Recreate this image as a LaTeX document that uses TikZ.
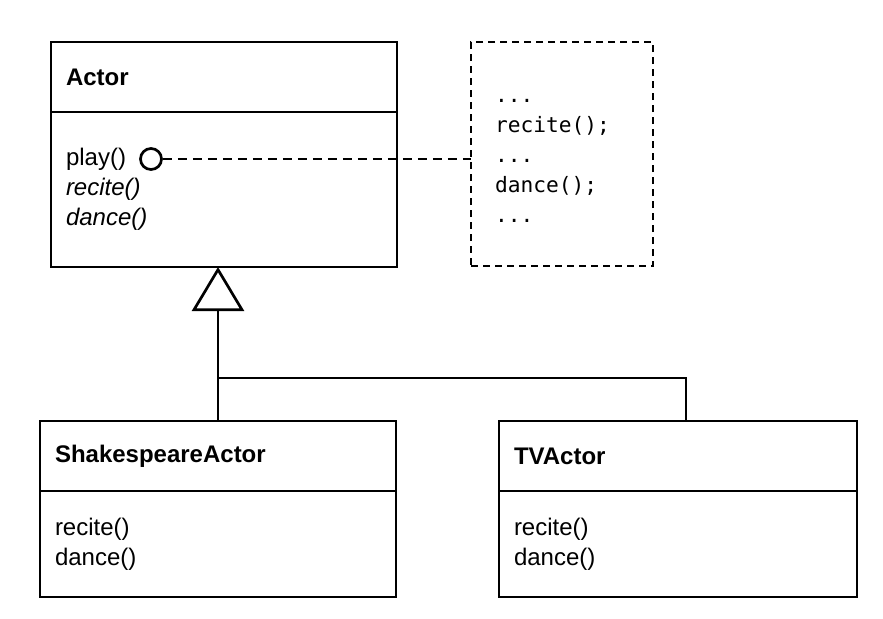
\documentclass[tikz,border=0pt]{standalone}
\usepackage{fontspec}
\setmainfont{Liberation Sans}
\newfontfamily\codefont{DejaVu Sans Mono}
\usetikzlibrary{arrows.meta,positioning}

\begin{document}
\begin{tikzpicture}[
			x=0.5pt, y=-0.5pt,
			line width=1.35pt,
			classhead/.style={draw, line width=1.35pt, outer sep=0pt, text width=#1, inner xsep=7.5pt, minimum height=35pt, align=left, font=\fontsize{12}{14.75}\selectfont\bfseries},
			classbody/.style={draw, line width=1.35pt, outer sep=0pt, text width=#1, inner xsep=7.5pt, align=left, font=\fontsize{12}{14.9}\selectfont},
			codebox/.style={draw, dash pattern=on 3.5pt off 2.5pt, line width=1.35pt, outer sep=0pt, text width=67pt, inner xsep=12pt, inner ysep=0pt, text height=30pt, text depth=82pt, align=left, font=\fontsize{10.6}{15.1}\selectfont\codefont},
			ball/.style={circle, draw, fill=white, line width=1.35pt, minimum size=10.5pt, inner sep=0pt},
			inherit/.style={-{Triangle[open, length=22pt, width=26pt]}, line width=1.35pt},
			link/.style={dash pattern=on 4.5pt off 3pt, line width=1.35pt}
			]
			\useasboundingbox (0,0) rectangle (883,618);
			
			% abstract class
			\node[classhead=158pt, anchor=north west] (actor) at (51,42) {Actor};
			\node[classbody=158pt, minimum height=77.5pt, below=0pt of actor] (actorops) {play()\\\textit{recite()}\\\textit{dance()}};
			\node[ball] (playball) at (151,159) {};
			
			% template method body
			\node[codebox, anchor=north west] (code) at (471,42) {...\\recite();\\...\\dance();\\...};
			
			% subclasses
			\node[classhead=163pt, anchor=north west] (shake) at (40,421) {ShakespeareActor};
			\node[classbody=163pt, minimum height=53pt, below=0pt of shake] (shakeops) {recite()\\dance()};
			\node[classhead=164pt, anchor=north west] (tv) at (499,421) {TVActor};
			\node[classbody=164pt, minimum height=53pt, below=0pt of tv] (tvops) {recite()\\dance()};
			
			\coordinate (fork) at ([yshift=21.5pt]shake.north);
			
			\draw[link] (playball.east) -- (playball.east -| code.west);
			\draw[inherit] (shake.north) -- (shake.north |- actorops.south);
			\draw ([xshift=4pt]tv.north) |- (fork);
		\end{tikzpicture}
\end{document}
